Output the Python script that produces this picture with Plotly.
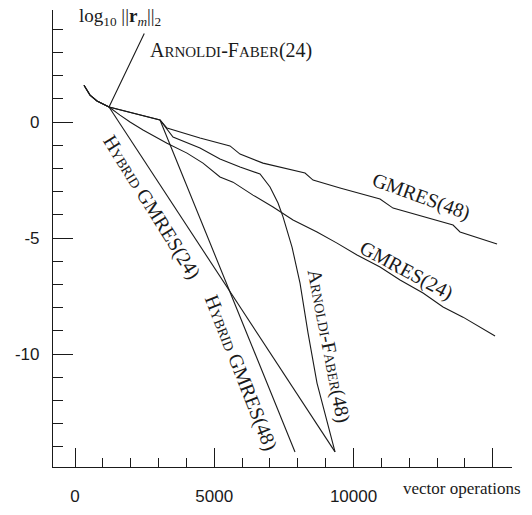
import plotly.graph_objects as go

# ---- data ----
gmres24_x = [323, 539, 790, 1221, 1616, 1975, 2442, 3303, 4021, 4596, 5206, 5673, 6391,
             7110, 7828, 8689, 9407, 10126, 10952, 11670, 12496, 13214, 13932, 14542, 15081]
gmres24_y = [1.59, 1.16, 0.91, 0.65, 0.30, 0.0, -0.34, -0.91, -1.34, -1.77, -2.37, -2.59, -3.15,
             -3.66, -4.22, -4.74, -5.22, -5.73, -6.25, -6.81, -7.37, -7.97, -8.41, -8.84, -9.22]

gmres48_x = [323, 539, 790, 1221, 3052, 3303, 4488, 5565, 5925, 6750, 8259, 8546, 9515,
             10952, 11418, 12639, 13573, 13824, 15153]
gmres48_y = [1.59, 1.16, 0.91, 0.65, 0.09, -0.26, -0.69, -1.03, -1.38, -1.77, -2.20, -2.50, -2.84,
             -3.32, -3.71, -4.14, -4.44, -4.74, -5.26]

af48_x = [323, 539, 790, 1221, 3052, 3519, 4488, 5206, 5925, 6643, 7002, 7289, 7469,
          7792, 8079, 8366, 8689, 9048, 9336]
af48_y = [1.59, 1.16, 0.91, 0.65, 0.09, -0.65, -1.12, -1.59, -1.94, -2.24, -2.80, -3.49, -4.09,
          -5.39, -6.94, -9.09, -11.25, -12.97, -14.22]

hybrid24_x = [1221, 9336]
hybrid24_y = [0.65, -14.22]

hybrid48_x = [3052, 7899]
hybrid48_y = [0.09, -14.22]

# Arnoldi-Faber(24) stops at the first restart point
af24_x = [1221]
af24_y = [0.65]

x_tickvals = [0, 5000, 10000, 15000]
x_ticktext = ["0", "5000", "10000", ""]
y_tickvals = [-10, -5, 0]
y_ticktext = ["-10", "-5", "0"]

INK = "#1a1a1a"
LINE = dict(color=INK, width=1.1)
SERIF = "Liberation Serif"
SANS = "Liberation Sans"

fig = go.Figure()
for xs, ys in [(gmres24_x, gmres24_y), (gmres48_x, gmres48_y), (af48_x, af48_y),
               (hybrid24_x, hybrid24_y), (hybrid48_x, hybrid48_y)]:
    fig.add_trace(go.Scatter(x=xs, y=ys, mode="lines", line=LINE, showlegend=False,
                             hoverinfo="skip"))

def sc(s, size=14):
    return f"<span style='font-size:{size}px'>{s}</span>"

lab_font = dict(family=SERIF, size=20, color=INK)
annotations = [
    dict(x=af24_x[0], y=af24_y[0], ax=2513, ay=3.88, axref="x", ayref="y",
         xref="x", yref="y",
         showarrow=True, arrowhead=0, arrowwidth=1.1, arrowcolor=INK, text=""),
    dict(x=5601, y=3.10, text="A" + sc("RNOLDI", 15) + "-F" + sc("ABER", 15) + "(24)",
         showarrow=False, font=lab_font),
    dict(x=12424, y=-3.23, text="GMRES(48)", textangle=20, showarrow=False, font=lab_font),
    dict(x=11885, y=-6.42, text="GMRES(24)", textangle=28, showarrow=False, font=lab_font),
    dict(x=2729, y=-3.66, text="H" + sc("YBRID") + " GMRES(24)", textangle=58,
         showarrow=False, font=lab_font),
    dict(x=5960, y=-10.78, text="H" + sc("YBRID") + " GMRES(48)", textangle=68.5,
         showarrow=False, font=lab_font),
    dict(x=9120, y=-9.66, text="A" + sc("RNOLDI") + "-F" + sc("ABER") + "(48)", textangle=79,
         showarrow=False, font=lab_font),
    dict(x=1616, y=4.53, text="log<sub>10</sub> ||<b>r</b><sub><i>m</i></sub>||<sub>2</sub>",
         showarrow=False, font=dict(family=SERIF, size=19, color=INK)),
    dict(x=13890, xref="x", y=-0.072, yref="paper", text="vector operations",
         showarrow=False, font=dict(family=SERIF, size=17, color=INK)),
]

fig.update_layout(
    width=532, height=515,
    margin=dict(l=53, r=20, t=10, b=48),
    paper_bgcolor="white", plot_bgcolor="white",
    annotations=annotations,
    xaxis=dict(range=[-790, 15690], showgrid=False, zeroline=False,
               showline=True, linecolor=INK, linewidth=1.2,
               tickvals=x_tickvals, ticktext=x_ticktext,
               ticks="inside", ticklen=19, tickwidth=1.1, tickcolor=INK,
               ticklabelstandoff=13,
               tickfont=dict(family=SANS, size=17, color=INK),
               minor=dict(dtick=1000, tick0=0, ticks="inside", ticklen=9,
                          tickwidth=1.1, tickcolor=INK)),
    yaxis=dict(range=[-14.87, 4.83], showgrid=False, zeroline=False,
               showline=True, linecolor=INK, linewidth=1.2,
               tickvals=y_tickvals, ticktext=y_ticktext,
               ticks="inside", ticklen=20, tickwidth=1.1, tickcolor=INK,
               ticklabelstandoff=9,
               tickfont=dict(family=SANS, size=17, color=INK),
               minor=dict(dtick=1, tick0=0, ticks="inside", ticklen=10,
                          tickwidth=1.1, tickcolor=INK)),
)

# remove the browser's default body margin so the figure fills the window exactly
fig.write_html("out.html",
               config={"displayModeBar": False},
               post_script="document.body.style.margin='0';document.body.style.overflow='hidden';")
